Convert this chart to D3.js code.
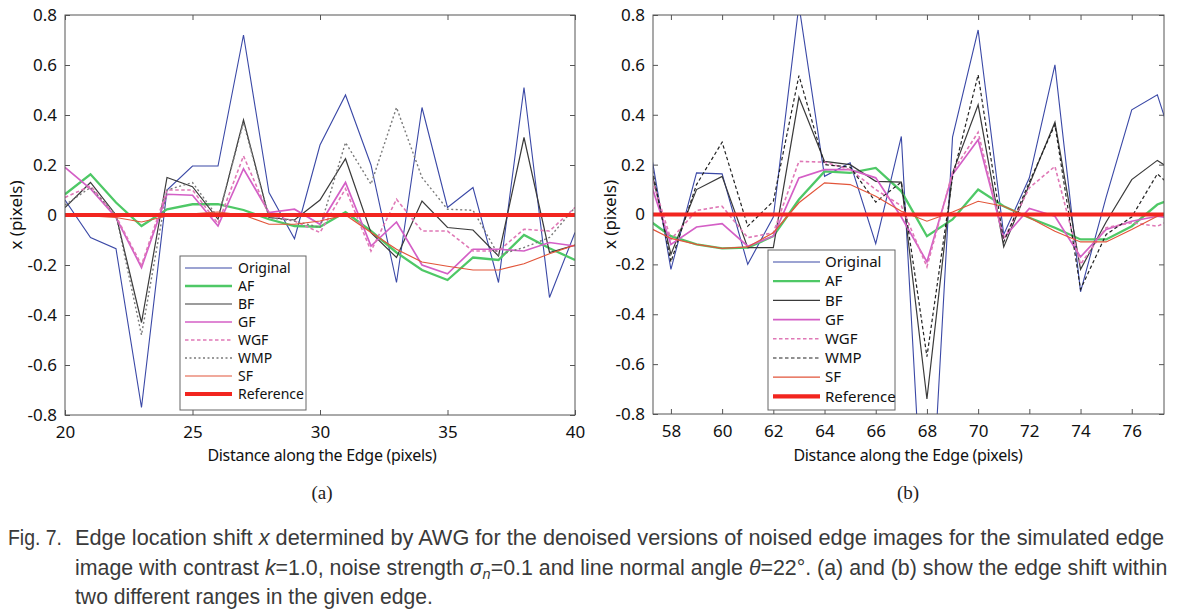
<!DOCTYPE html>
<html><head><meta charset="utf-8">
<script src="https://cdnjs.cloudflare.com/ajax/libs/d3/7.8.5/d3.min.js"></script>
<style>body{margin:0;background:#fff}svg{display:block}</style>
</head><body>
<svg id="c" width="1185" height="609"></svg>
<script>
// ---------- data ----------
const seriesNames = ["Original","AF","BF","GF","WGF","WMP","SF","Reference"];
const yTicks = [-0.8,-0.6,-0.4,-0.2,0,0.2,0.4,0.6,0.8];
const aTicksX = [20,25,30,35,40];
const bTicksX = [58,60,62,64,66,68,70,72,74,76];

const aX = [20,21,22,23,24,25,26,27,28,29,30,31,32,33,34,35,36,37,38,39,40];
const aOriginal = [0.06,-0.09,-0.135,-0.77,0.10,0.196,0.196,0.72,0.09,-0.095,0.28,0.48,0.20,-0.27,0.43,0.03,0.11,-0.27,0.51,-0.33,-0.07];
const aAF  = [0.083,0.163,0.05,-0.044,0.023,0.043,0.043,0.02,-0.017,-0.044,-0.047,0.012,-0.064,-0.15,-0.22,-0.26,-0.17,-0.18,-0.08,-0.133,-0.18];
const aBF  = [0.03,0.13,0.0,-0.43,0.15,0.113,-0.017,0.38,-0.01,-0.02,0.06,0.225,-0.071,-0.17,0.056,-0.05,-0.06,-0.164,0.31,-0.15,-0.12];
const aGF  = [0.19,0.105,-0.01,-0.21,0.083,0.079,-0.044,0.185,0.01,0.023,-0.037,0.13,-0.124,-0.028,-0.2,-0.235,-0.137,-0.137,-0.144,-0.11,-0.124];
const aWGF = [0.07,0.116,-0.005,-0.2,0.1,0.1,-0.035,0.236,0.0,-0.024,-0.07,0.105,-0.144,0.063,-0.064,-0.064,-0.144,-0.144,-0.057,-0.064,0.03];
const aWMP = [0.04,0.11,0.0,-0.48,0.10,0.13,-0.01,0.37,-0.01,-0.024,-0.05,0.29,0.123,0.43,0.15,0.023,0.019,-0.16,-0.13,-0.09,0.03];
const aSF  = [0.0,-0.004,-0.01,-0.028,-0.004,0.005,0.012,0.0,-0.037,-0.037,-0.024,0.0,-0.07,-0.137,-0.188,-0.205,-0.22,-0.22,-0.195,-0.155,-0.12];

const bX = [57,58,59,60,61,62,63,64,65,66,67,68,69,70,71,72,73,74,75,76,77,78];
const bOriginal = [0.38,-0.22,0.167,0.163,-0.2,-0.01,0.84,0.153,0.207,-0.117,0.313,-1.55,0.31,0.74,-0.08,0.147,0.6,-0.31,0.07,0.42,0.48,0.16];
const bAF  = [-0.013,-0.087,-0.12,-0.136,-0.133,-0.087,0.06,0.173,0.167,0.187,0.093,-0.087,-0.02,0.1,0.033,-0.013,-0.053,-0.1,-0.1,-0.047,0.04,0.08];
const bBF  = [0.28,-0.16,0.1,0.153,-0.133,-0.133,0.47,0.213,0.2,0.133,0.13,-0.74,0.166,0.44,-0.13,0.12,0.37,-0.22,-0.03,0.14,0.217,0.15];
const bGF  = [0.19,-0.12,-0.05,-0.037,-0.127,-0.087,0.147,0.18,0.18,0.147,-0.01,-0.19,0.16,0.30,-0.093,0.024,-0.007,-0.17,-0.06,-0.027,-0.007,-0.02];
const bWGF = [0.23,-0.1,0.016,0.033,-0.093,-0.073,0.213,0.21,0.18,0.1,0.035,-0.21,0.17,0.33,-0.1,0.107,0.193,-0.2,-0.053,-0.033,-0.047,0.0];
const bWMP = [0.32,-0.19,0.12,0.29,-0.047,0.053,0.557,0.2,0.19,0.05,0.13,-0.57,0.15,0.56,-0.11,0.13,0.36,-0.3,-0.08,-0.01,0.163,0.07];
const bSF  = [-0.045,-0.096,-0.12,-0.136,-0.13,-0.073,0.047,0.127,0.12,0.073,0.013,-0.027,0.01,0.053,0.033,-0.013,-0.067,-0.11,-0.11,-0.06,-0.007,0.02];

// ---------- styles ----------
const styleBase = {
  Original:{color:"#3a48a6",w:1.1,dash:null},
  AF:{color:"#4ec866",w:2.3,dash:null},
  BF:{color:"#3a3a3a",w:1.2,dash:null},
  GF:{color:"#d45fc6",w:1.7,dash:null},
  WGF:{color:"#df78b6",w:1.6,dash:"3.5,2.5"},
  SF:{color:"#e2553a",w:1.2,dash:null},
  Reference:{color:"#f2251f",w:4.2,dash:null}
};
const wmpA = {color:"#7a7a7a",w:1.4,dash:"2,2.5"};
const wmpB = {color:"#222",w:1.2,dash:"3.5,2.5"};

const svg = d3.select("#c");
const font = "'Noto Sans', 'Open Sans', sans-serif";
const fmtY = d => d===0 ? "0" : d3.format(".1f")(d).replace("\u2212","-");

function panel(opt){
  const {id,left,right,top,bottom,xDomain,xTicks,xs,data,wmp,legend,ylabX,xTitleX,panelLabel} = opt;
  const x = d3.scaleLinear().domain(xDomain).range([left,right]);
  const y = d3.scaleLinear().domain([-0.8,0.8]).range([bottom,top]);
  const g = svg.append("g");
  g.append("clipPath").attr("id","clip"+id).append("rect")
    .attr("x",left).attr("y",top).attr("width",right-left).attr("height",bottom-top);
  const axCol = "#555";
  const tl = 5;
  g.append("g").attr("transform",`translate(0,${bottom})`)
    .call(d3.axisBottom(x).tickValues(xTicks).tickSizeInner(-tl).tickSizeOuter(0).tickPadding(11))
    .call(s=>{s.select(".domain").remove();s.selectAll("line").attr("stroke",axCol);
      s.selectAll("text").attr("font-family",font).attr("font-size",17).attr("fill","#111");});
  g.append("g").attr("transform",`translate(0,${top})`)
    .call(d3.axisTop(x).tickValues(xTicks).tickSizeInner(-tl).tickSizeOuter(0).tickFormat(""))
    .call(s=>{s.select(".domain").remove();s.selectAll("line").attr("stroke",axCol);});
  g.append("g").attr("transform",`translate(${left},0)`)
    .call(d3.axisLeft(y).tickValues(yTicks).tickSizeInner(-tl).tickSizeOuter(0).tickPadding(8)
      .tickFormat(fmtY))
    .call(s=>{s.select(".domain").remove();s.selectAll("line").attr("stroke",axCol);
      s.selectAll("text").attr("font-family",font).attr("font-size",17).attr("fill","#111");});
  g.append("g").attr("transform",`translate(${right},0)`)
    .call(d3.axisRight(y).tickValues(yTicks).tickSizeInner(-tl).tickSizeOuter(0).tickFormat(""))
    .call(s=>{s.select(".domain").remove();s.selectAll("line").attr("stroke",axCol);});

  const lines = g.append("g").attr("clip-path",`url(#clip${id})`);
  const line = d3.line().x(d=>x(d[0])).y(d=>y(d[1]));
  seriesNames.forEach(n=>{
    const st = n==="WMP"?wmp:styleBase[n];
    let pts;
    if(n==="Reference") pts = [[xDomain[0]-1,0],[xDomain[1]+1,0]];
    else pts = xs.map((xv,i)=>[xv,data[n][i]]);
    lines.append("path").attr("d",line(pts)).attr("fill","none")
      .attr("stroke",st.color).attr("stroke-width",st.w)
      .attr("stroke-dasharray",st.dash).attr("stroke-linejoin","miter");
  });
  g.append("rect").attr("x",left).attr("y",top).attr("width",right-left).attr("height",bottom-top)
    .attr("fill","none").attr("stroke",axCol).attr("stroke-width",1);

  const L = legend;
  g.append("rect").attr("x",L.x).attr("y",L.y).attr("width",L.w).attr("height",L.h)
    .attr("fill","#fff").attr("stroke","#666").attr("stroke-width",1);
  seriesNames.forEach((n,i)=>{
    const st = n==="WMP"?wmp:styleBase[n];
    const yy = L.y0 + i*L.dy;
    g.append("line").attr("x1",L.lx1).attr("x2",L.lx2).attr("y1",yy).attr("y2",yy)
      .attr("stroke",st.color).attr("stroke-width",st.w).attr("stroke-dasharray",st.dash);
    g.append("text").attr("x",L.tx).attr("y",yy).attr("dy","0.35em")
      .attr("font-family",font).attr("font-size",L.fs).attr("fill","#111").text(n);
  });

  g.append("text").attr("transform",`translate(${ylabX},${(top+bottom)/2}) rotate(-90)`)
    .attr("text-anchor","middle").attr("dy","0.35em").attr("font-family",font).attr("font-size",17)
    .attr("fill","#111").text("x (pixels)");
  g.append("text").attr("x",xTitleX).attr("y",455).attr("dy","0.35em").attr("text-anchor","middle")
    .attr("font-family",font).attr("font-size",16).attr("fill","#111").attr("letter-spacing","-0.3")
    .text("Distance along the Edge (pixels)");
  g.append("text").attr("x",xTitleX).attr("y",492).attr("dy","0.35em").attr("text-anchor","middle")
    .attr("font-family","'Liberation Serif', serif").attr("font-size",19).attr("fill","#222")
    .text(panelLabel);
}

panel({id:"a",left:65,right:575,top:15,bottom:415,xDomain:[20,40],xTicks:aTicksX,xs:aX,
  data:{Original:aOriginal,AF:aAF,BF:aBF,GF:aGF,WGF:aWGF,WMP:aWMP,SF:aSF},wmp:wmpA,
  legend:{x:180,y:256,w:126,h:154,y0:268,dy:18,lx1:185,lx2:232,tx:238,fs:14},
  ylabX:16,xTitleX:322,panelLabel:"(a)"});
panel({id:"b",left:653,right:1164,top:15,bottom:414,xDomain:[57.3,77.26],xTicks:bTicksX,xs:bX,
  data:{Original:bOriginal,AF:bAF,BF:bBF,GF:bGF,WGF:bWGF,WMP:bWMP,SF:bSF},wmp:wmpB,
  legend:{x:768,y:250,w:127,h:160,y0:262,dy:19.2,lx1:773,lx2:820,tx:825,fs:15},
  ylabX:610,xTitleX:908,panelLabel:"(b)"});

// ---------- caption ----------
const capFont = "'Liberation Sans', Arial, sans-serif";
function capLine(x0,x1,yb,parts){
  const g = svg.append("g");
  const t = g.append("text").attr("x",0).attr("y",0).attr("font-family",capFont)
    .attr("font-size",22).attr("fill","#3a3a3a");
  parts.forEach(p=>{
    const ts = t.append("tspan").text(p.t);
    if(p.i) ts.attr("font-style","italic");
    if(p.sub) ts.attr("font-size",15).attr("baseline-shift","-25%");
  });
  const w = t.node().getComputedTextLength();
  g.attr("transform",`translate(${x0},${yb}) scale(${(x1-x0)/w},1)`);
}
capLine(8,62,545,[{t:"Fig. 7."}]);
capLine(75,1165,545,[{t:"Edge location shift "},{t:"x",i:1},{t:" determined by AWG for the denoised versions of noised edge images for the simulated edge"}]);
capLine(75,1168,575,[{t:"image with contrast "},{t:"k",i:1},{t:"=1.0, noise strength "},{t:"σ",i:1},{t:"n",i:1,sub:1},
  {t:"=0.1 and line normal angle "},{t:"θ",i:1},{t:"=22°. (a) and (b) show the edge shift within"}]);
capLine(75,433,604,[{t:"two different ranges in the given edge."}]);
</script>
</body></html>
